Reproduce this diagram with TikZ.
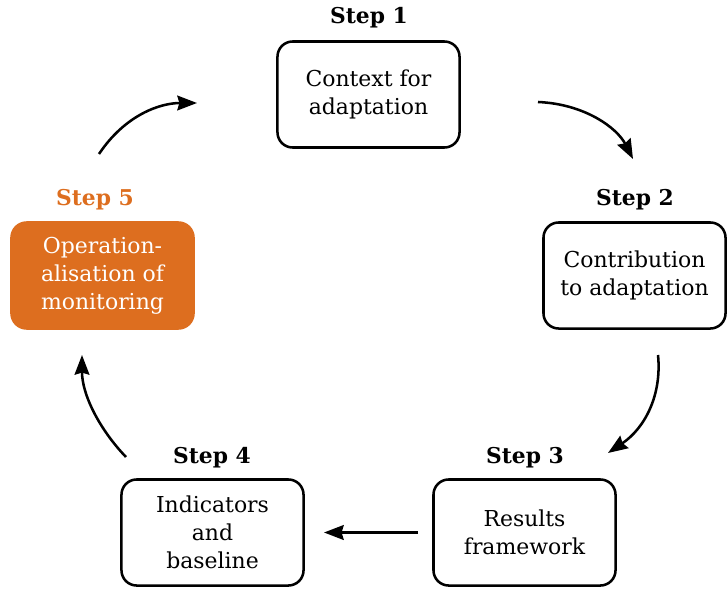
\documentclass[tikz,border=0pt]{standalone}
\usepackage{fontspec}
\setmainfont{DejaVu Serif}
\usetikzlibrary{arrows.meta}
\definecolor{steporange}{RGB}{221,110,31}
\begin{document}
\begin{tikzpicture}[x=0.025cm,y=-0.025cm]
\tikzstyle{stepbox}=[draw, line width=1.8pt, rounded corners=0.38cm, minimum width=4.55cm, minimum height=2.65cm, align=center, font=\fontsize{15.6}{20}\selectfont]
\tikzstyle{active}=[stepbox, draw=steporange, fill=steporange, text=white]
\tikzstyle{steplabel}=[font=\fontsize{15.5}{18}\selectfont\bfseries]
\tikzstyle{flow}=[draw, line width=1.8pt, -{Stealth[length=14pt, width=10.5pt, inset=1.5pt]}]

\useasboundingbox (0,0) rectangle (728,591);

% Define steps
\node[stepbox] (step1) at (368.5,94.5) {Context for\\adaptation};
\node[stepbox] (step2) at (634.5,275.5) {Contribution\\to adaptation};
\node[stepbox] (step3) at (524.5,532.5) {Results\\framework};
\node[stepbox] (step4) at (212.5,532.5) {Indicators\\and\\baseline};
\node[active] (step5) at (102.5,275.5) {Operation-\\alisation of\\monitoring};

% Step labels
\node[steplabel] (lab1) at (369,18) {Step 1};
\node[steplabel] (lab2) at (635,200) {Step 2};
\node[steplabel] (lab3) at (525,458) {Step 3};
\node[steplabel] (lab4) at (212,458) {Step 4};
\node[steplabel, text=steporange] (lab5) at (95,200) {Step 5};

% Arrow ends
\coordinate (s12) at (538,102);
\coordinate (e12) at (633,159);
\coordinate (s23) at (658,355);
\coordinate (e23) at (608,453);
\coordinate (s45) at (126,457);
\coordinate (e45) at (82,355);
\coordinate (s51) at (99,154);
\coordinate (e51) at (197,103);

% Cycle
\draw[flow] (s12) .. controls (585,104) and (617,128) .. (e12);
\draw[flow] (s23) .. controls (662,395) and (645,428) .. (e23);
\draw[flow, shorten <=0.35cm, shorten >=0.48cm] (step3.west) -- (step4.east);
\draw[flow] (s45) .. controls (100,430) and (82,395) .. (e45);
\draw[flow] (s51) .. controls (125,115) and (160,103) .. (e51);
\end{tikzpicture}
\end{document}
